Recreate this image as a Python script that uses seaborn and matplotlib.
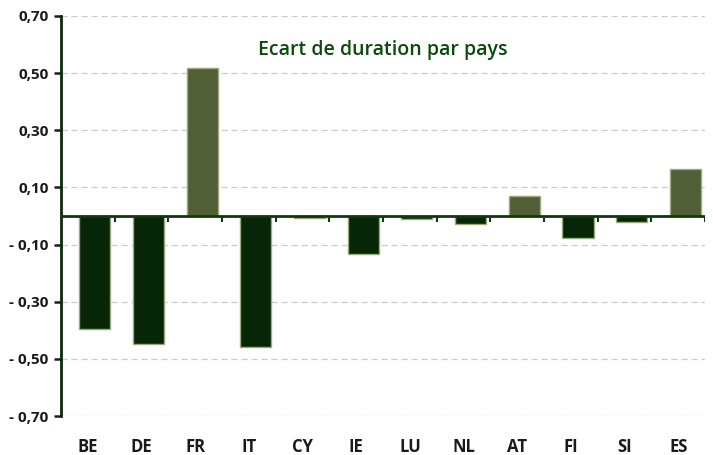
import matplotlib
matplotlib.use("Agg")
import matplotlib.pyplot as plt
import seaborn as sns
import pandas as pd
import numpy as np

countries = ["BE", "DE", "FR", "IT", "CY", "IE", "LU", "NL", "AT", "FI", "SI", "ES"]
values = [-0.395, -0.448, 0.518, -0.459, -0.007, -0.133, -0.010, -0.027, 0.070, -0.077, -0.020, 0.165]
yticks = [0.70, 0.50, 0.30, 0.10, -0.10, -0.30, -0.50, -0.70]
title = "Ecart de duration par pays"

sns.set_theme(style="white")
plt.rcParams['font.family'] = ['Open Sans', 'DejaVu Sans']

df = pd.DataFrame({"pays": countries, "ecart": values})
df["signe"] = np.where(df["ecart"] >= 0, "pos", "neg")

fig = plt.figure(figsize=(7.13, 4.55), dpi=100)
ax = fig.add_axes([0.0856, 0.0857, 0.9034, 0.8793])

sns.barplot(data=df, x="pays", y="ecart", hue="signe", order=countries,
            palette={"pos": "#536630", "neg": "#022b02"}, dodge=False,
            width=0.58, edgecolor="#9aa97a", linewidth=1.0, legend=False, ax=ax)
# Excel-style placement: bars sit slightly right of the category centre
for p in ax.patches:
    p.set_x(p.get_x() + 0.13)

ax.set_ylim(-0.70, 0.70)
ax.set_xlim(-0.5, len(countries) - 0.5)
ax.set_yticks(yticks)
ax.set_yticklabels([("- " if v < 0 else "") + f"{abs(v):.2f}".replace(".", ",") for v in yticks],
                   fontsize=11, fontweight="bold", color="#1a1a1a")
ax.set_xticks(range(len(countries)))
ax.set_xticklabels(countries, fontsize=12, fontweight="bold", color="#1a1a1a")
ax.tick_params(axis="x", length=0, pad=16)
ax.tick_params(axis="y", length=5, width=1.8, color="#0d2a0d", direction="out", left=True, pad=4)

ax.yaxis.grid(True, linestyle=(0, (5, 3)), color="#cccccc", linewidth=0.9)
ax.set_axisbelow(True)
for s in ["top", "right", "bottom"]:
    ax.spines[s].set_visible(False)
ax.spines["left"].set_color("#0d2a0d")
ax.spines["left"].set_linewidth(2)

ax.axhline(0, color="#0d3a0d", linewidth=2, zorder=3)
bounds = np.arange(0.5, len(countries), 1.0)
ax.vlines(bounds, -0.02, 0, color="#0d3a0d", linewidth=1.5, zorder=3)

ax.set_xlabel("")
ax.set_ylabel("")
ax.text(0.5, 0.915, title, transform=ax.transAxes, ha="center", va="center",
        fontsize=14, color="#0b4a0b", fontweight="semibold")

fig.savefig("out.png", dpi=100)
